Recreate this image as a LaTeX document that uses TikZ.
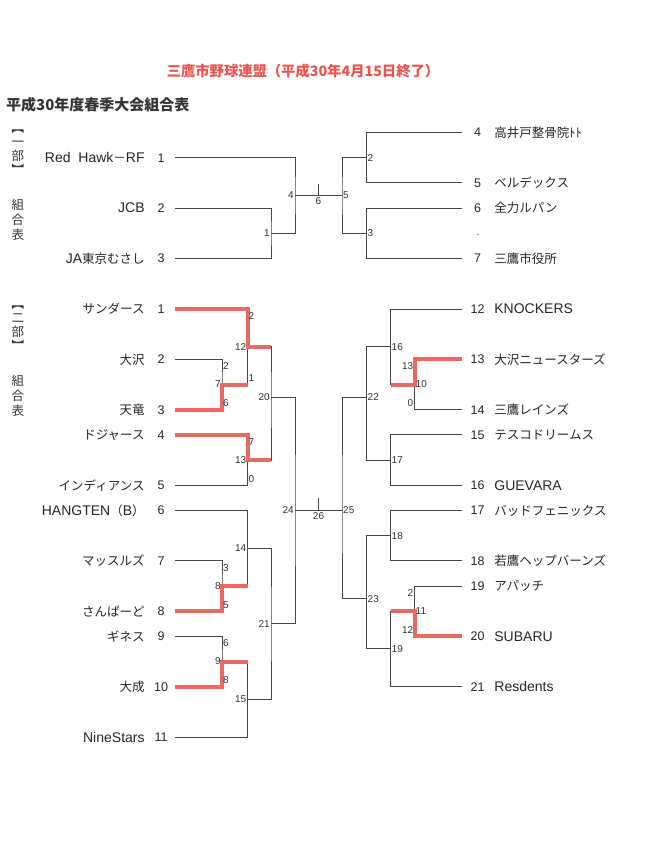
\documentclass[tikz,border=0pt]{standalone}
\usepackage{fontspec}
\setmainfont{Liberation Sans}
\newfontfamily\jp{Noto Sans CJK JP}
\newcommand\jpn{\jp\fontsize{12.5}{13}\selectfont}
\usepackage{tikz}
\definecolor{linegray}{RGB}{70,70,70}
\definecolor{winred}{RGB}{232,106,98}
\definecolor{titlered}{RGB}{236,84,76}

\begin{document}
\begin{tikzpicture}[x=1pt, y=-1pt,
	bline/.style={draw=linegray, line width=1pt},
	win/.style={draw=winred, line width=4pt},
	lnum/.style={font=\fontsize{12.5}{12.5}\selectfont, minimum width=28pt, inner sep=0pt, text=black!85},
	rnum/.style={font=\fontsize{12.5}{12.5}\selectfont, minimum width=31pt, inner sep=0pt, text=black!85},
	lname/.style={font=\fontsize{14}{14}\selectfont, anchor=east, inner sep=2pt, text=black!85},
	rname/.style={font=\fontsize{14}{14}\selectfont, anchor=west, inner sep=1pt, text=black!85},
	jname/.style={font=\jpn},
	mnum/.style={font=\fontsize{10}{10}\selectfont, inner sep=1pt, text=black!80},
	side/.style={font=\jp\fontsize{12.5}{14}\selectfont, align=center, inner sep=0pt, text=black!80}
	]
	\fill[white] (0,0) rectangle (648,854);
	
	\node[font=\jp\bfseries\fontsize{14.3}{14.3}\selectfont, text=titlered] (title) at (303,71) {三鷹市野球連盟（平成30年4月15日終了）};
	\node[font=\jp\bfseries\fontsize{15}{15}\selectfont, anchor=west, inner sep=0pt, text=black!80] (head) at (6,105) {平成30年度春季大会組合表};
	
	\node[side] (bu1) at (18,152) {︻\\一\\部\\︼};
	\node[side, font=\jp\fontsize{12.5}{15}\selectfont] (kumi1) at (18,220) {組\\合\\表};
	\node[side] (bu2) at (18,328) {︻\\二\\部\\︼};
	\node[side, font=\jp\fontsize{12.5}{15}\selectfont] (kumi2) at (18,395.5) {組\\合\\表};
	
	% 一部
	\node[lnum] (a1) at (161,157.7) {1};
	\node[lname] (an1) at (a1.west) {Red\ \ Hawk{\jpn －}RF};
	\node[lnum] (a2) at (161,208.1) {2};
	\node[lname] (an2) at (a2.west) {JCB};
	\node[lnum] (a3) at (161,258.5) {3};
	\node[lname] (an3) at (a3.west) {JA{\jpn 東京むさし}};
	\node[rnum] (a4) at (477.5,132.5) {4};
	\node[rname, jname] (an4) at (a4.east) {高井戸整骨院ﾄﾄ};
	\node[rnum] (a5) at (477.5,182.9) {5};
	\node[rname, jname] (an5) at (a5.east) {ベルデックス};
	\node[rnum] (a6) at (477.5,208.1) {6};
	\node[rname, jname] (an6) at (a6.east) {全力ルパン};
	\node[rnum] (a7) at (477.5,258.5) {7};
	\node[rname, jname] (an7) at (a7.east) {三鷹市役所};
	\node[mnum] (dot) at (478,235) {.};
	
	\coordinate (m1) at (271,233.3);
	\coordinate (m4) at (295,195.5);
	\coordinate (m2) at (366.5,157.7);
	\coordinate (m3) at (366.5,233.3);
	\coordinate (m5) at (342,195.5);
	\coordinate (c6) at (318.5,195.5);
	
	\draw[bline] (a2.east) -| (m1) |- (a3.east);
	\draw[bline] (a1.east) -| (m4) |- (m1);
	\draw[bline] (a4.west) -| (m2) |- (a5.west);
	\draw[bline] (a6.west) -| (m3) |- (a7.west);
	\draw[bline] (m2) -| (m5) |- (m3);
	\draw[bline] (m4) -- (m5);
	\draw[bline] (c6) -- ++(0,-12);
	
	\node[mnum, anchor=east] (l1) at (m1) {1};
	\node[mnum, anchor=east] (l4) at (m4) {4};
	\node[mnum, anchor=west] (l2) at (m2) {2};
	\node[mnum, anchor=west] (l3) at (m3) {3};
	\node[mnum, anchor=west] (l5) at (m5) {5};
	\node[mnum, anchor=north, inner sep=1.5pt] (l6) at (c6) {6};
	
	% 二部
	\node[lnum] (b1) at (161,309) {1};
	\node[lname, jname] (bn1) at (b1.west) {サンダース};
	\node[lnum] (b2) at (161,359.4) {2};
	\node[lname, jname] (bn2) at (b2.west) {大沢};
	\node[lnum] (b3) at (161,409.7) {3};
	\node[lname, jname] (bn3) at (b3.west) {天竜};
	\node[lnum] (b4) at (161,434.9) {4};
	\node[lname, jname] (bn4) at (b4.west) {ドジャース};
	\node[lnum] (b5) at (161,485.3) {5};
	\node[lname, jname] (bn5) at (b5.west) {インディアンス};
	\node[lnum] (b6) at (161,510.4) {6};
	\node[lname] (bn6) at (b6.west) {HANGTEN{\jpn （}B{\jpn ）}};
	\node[lnum] (b7) at (161,560.8) {7};
	\node[lname, jname] (bn7) at (b7.west) {マッスルズ};
	\node[lnum] (b8) at (161,611.2) {8};
	\node[lname, jname] (bn8) at (b8.west) {さんぱーど};
	\node[lnum] (b9) at (161,636.3) {9};
	\node[lname, jname] (bn9) at (b9.west) {ギネス};
	\node[lnum] (b10) at (161,686.7) {10};
	\node[lname, jname] (bn10) at (b10.west) {大成};
	\node[lnum] (b11) at (161,737.1) {11};
	\node[lname] (bn11) at (b11.west) {NineStars};
	
	\node[rnum] (b12) at (477.5,309) {12};
	\node[rname] (bn12) at (b12.east) {KNOCKERS};
	\node[rnum] (b13) at (477.5,359.4) {13};
	\node[rname, jname] (bn13) at (b13.east) {大沢ニュースターズ};
	\node[rnum] (b14) at (477.5,409.7) {14};
	\node[rname, jname] (bn14) at (b14.east) {三鷹レインズ};
	\node[rnum] (b15) at (477.5,434.9) {15};
	\node[rname, jname] (bn15) at (b15.east) {テスコドリームス};
	\node[rnum] (b16) at (477.5,485.3) {16};
	\node[rname] (bn16) at (b16.east) {GUEVARA};
	\node[rnum] (b17) at (477.5,510.4) {17};
	\node[rname, jname] (bn17) at (b17.east) {バッドフェニックス};
	\node[rnum] (b18) at (477.5,560.8) {18};
	\node[rname, jname] (bn18) at (b18.east) {若鷹ヘップバーンズ};
	\node[rnum] (b19) at (477.5,586) {19};
	\node[rname, jname] (bn19) at (b19.east) {アパッチ};
	\node[rnum] (b20) at (477.5,636.3) {20};
	\node[rname] (bn20) at (b20.east) {SUBARU};
	\node[rnum] (b21) at (477.5,686.7) {21};
	\node[rname] (bn21) at (b21.east) {Resdents};
	
	\coordinate (m7) at (222,384.5);
	\coordinate (m12) at (247.5,346.8);
	\coordinate (m13) at (247.5,460.1);
	\coordinate (m20) at (271,397.1);
	\coordinate (m8) at (222,586);
	\coordinate (m14) at (247.5,548.2);
	\coordinate (m9) at (222,661.5);
	\coordinate (m15) at (247.5,699.3);
	\coordinate (m21) at (271,623.8);
	\coordinate (m24) at (295,510.4);
	\coordinate (m10) at (414.5,384.5);
	\coordinate (m16) at (390.5,346.8);
	\coordinate (m17) at (390.5,460.1);
	\coordinate (m22) at (366.5,397.1);
	\coordinate (m18) at (390.5,535.6);
	\coordinate (m11) at (414.5,611.2);
	\coordinate (m19) at (390.5,648.9);
	\coordinate (m23) at (366.5,598.6);
	\coordinate (m25) at (342,510.4);
	\coordinate (c26) at (318.5,510.4);
	
	\draw[bline] (b2.east) -| (m7) |- (b3.east);
	\draw[bline] (b1.east) -| (m12) |- (m7);
	\draw[bline] (b4.east) -| (m13) |- (b5.east);
	\draw[bline] (m12) -| (m20) |- (m13);
	\draw[bline] (b7.east) -| (m8) |- (b8.east);
	\draw[bline] (b6.east) -| (m14) |- (m8);
	\draw[bline] (b9.east) -| (m9) |- (b10.east);
	\draw[bline] (m9) -| (m15) |- (b11.east);
	\draw[bline] (m14) -| (m21) |- (m15);
	\draw[bline] (m20) -| (m24) |- (m21);
	\draw[bline] (b13.west) -| (m10) |- (b14.west);
	\draw[bline] (b12.west) -| (m16) |- (m10);
	\draw[bline] (b15.west) -| (m17) |- (b16.west);
	\draw[bline] (m16) -| (m22) |- (m17);
	\draw[bline] (b17.west) -| (m18) |- (b18.west);
	\draw[bline] (b19.west) -| (m11) |- (b20.west);
	\draw[bline] (m11) -| (m19) |- (b21.west);
	\draw[bline] (m18) -| (m23) |- (m19);
	\draw[bline] (m22) -| (m25) |- (m23);
	\draw[bline] (m24) -- (m25);
	\draw[bline] (c26) -- ++(0,-12);
	
	\draw[win] (b1.east) -| (m12) -- (m12 -| m20);
	\draw[win] (b3.east) -| (m7) -- (m7 -| m12);
	\draw[win] (b4.east) -| (m13) -- (m13 -| m20);
	\draw[win] (b8.east) -| (m8) -- (m8 -| m14);
	\draw[win] (b10.east) -| (m9) -- (m9 -| m15);
	\draw[win] (b13.west) -| (m10) -- (m10 -| m16);
	\draw[win] (b20.west) -| (m11) -- (m11 -| m19);
	
	\node[mnum, anchor=east] (l7) at (m7) {7};
	\node[mnum, anchor=east] (l12) at (m12) {12};
	\node[mnum, anchor=east] (l13) at (m13) {13};
	\node[mnum, anchor=east] (l20) at (m20) {20};
	\node[mnum, anchor=east] (l8) at (m8) {8};
	\node[mnum, anchor=east] (l14) at (m14) {14};
	\node[mnum, anchor=east] (l9) at (m9) {9};
	\node[mnum, anchor=east] (l15) at (m15) {15};
	\node[mnum, anchor=east] (l21) at (m21) {21};
	\node[mnum, anchor=east] (l24) at (m24) {24};
	\node[mnum, anchor=west] (l10) at (m10) {10};
	\node[mnum, anchor=west] (l16) at (m16) {16};
	\node[mnum, anchor=west] (l17) at (m17) {17};
	\node[mnum, anchor=west] (l22) at (m22) {22};
	\node[mnum, anchor=west] (l18) at (m18) {18};
	\node[mnum, anchor=west] (l11) at (m11) {11};
	\node[mnum, anchor=west] (l19) at (m19) {19};
	\node[mnum, anchor=west] (l23) at (m23) {23};
	\node[mnum, anchor=west] (l25) at (m25) {25};
	\node[mnum, anchor=north, inner sep=1.5pt] (l26) at (c26) {26};
	
	\node[mnum, anchor=west] (s7a) at (222,366.4) {2};
	\node[mnum, anchor=west] (s7b) at (222,403.2) {6};
	\node[mnum, anchor=west] (s12a) at (247.5,316) {2};
	\node[mnum, anchor=west] (s12b) at (247.5,378) {1};
	\node[mnum, anchor=west] (s13a) at (247.5,441.9) {7};
	\node[mnum, anchor=west] (s13b) at (247.5,479.5) {0};
	\node[mnum, anchor=west] (s8a) at (222,567.8) {3};
	\node[mnum, anchor=west] (s8b) at (222,604.7) {5};
	\node[mnum, anchor=west] (s9a) at (222,643.3) {6};
	\node[mnum, anchor=west] (s9b) at (222,680.2) {8};
	\node[mnum, anchor=east] (s10a) at (414.5,366.4) {13};
	\node[mnum, anchor=east] (s10b) at (414.5,403.2) {0};
	\node[mnum, anchor=east] (s11a) at (414.5,593) {2};
	\node[mnum, anchor=east] (s11b) at (414.5,629.8) {12};
\end{tikzpicture}
\end{document}
